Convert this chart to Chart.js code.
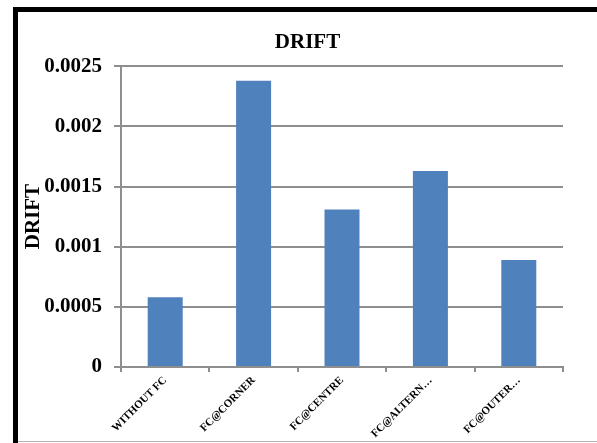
<!DOCTYPE html>
<html>
<head>
<meta charset="utf-8">
<script src="https://cdn.jsdelivr.net/npm/chart.js@4.4.0/dist/chart.umd.min.js"></script>
<style>
  html, body { margin: 0; padding: 0; background: #fff; overflow: hidden; }
  canvas { display: block; }
</style>
</head>
<body>
<canvas id="c" width="597" height="443"></canvas>
<script>
// Drift per flat-column configuration
const categories = ['WITHOUT FC', 'FC@CORNER', 'FC@CENTRE', 'FC@ALTERN\u2026', 'FC@OUTER\u2026'];
const driftValues = [0.00058, 0.00238, 0.00131, 0.00163, 0.00089];
const yTickLabels = ['0', '0.0005', '0.001', '0.0015', '0.002', '0.0025'];
const chartTitle = 'DRIFT';
const yAxisTitle = 'DRIFT';

const serif = "'Liberation Serif', 'Times New Roman', serif";
const gridGray = '#8e8e8e';

// Heavy black frame on the top and left, thin grey rule at the bottom
const framePlugin = {
  id: 'frame',
  beforeDraw(chart) {
    const ctx = chart.ctx;
    ctx.save();
    ctx.fillStyle = '#fff';
    ctx.fillRect(0, 0, chart.width, chart.height);
    ctx.fillStyle = '#000';
    ctx.fillRect(13, 7, chart.width - 13, 5);
    ctx.fillRect(13, 7, 5, chart.height - 7);
    ctx.fillStyle = '#b4b4b4';
    ctx.fillRect(18, 441, chart.width - 18, 1);
    ctx.restore();
  }
};

new Chart(document.getElementById('c'), {
  type: 'bar',
  data: {
    labels: categories,
    datasets: [{
      label: 'DRIFT',
      data: driftValues,
      backgroundColor: '#4F81BD',
      borderWidth: 0,
      barPercentage: 0.396,
      categoryPercentage: 1
    }]
  },
  options: {
    responsive: false,
    animation: false,
    layout: { padding: { left: 18, right: 0, top: 12, bottom: 0 } },
    plugins: {
      legend: { display: false },
      tooltip: { enabled: false },
      title: {
        display: true,
        text: chartTitle,
        color: '#000',
        font: { family: serif, size: 21, weight: 'bold', lineHeight: 1.2 },
        padding: { top: 18, bottom: 11 }
      }
    },
    scales: {
      x: {
        grid: {
          display: true,
          drawOnChartArea: false,
          drawTicks: true,
          tickLength: 5,
          color: gridGray,
          lineWidth: 2,
          offset: true
        },
        border: { color: gridGray, width: 2 },
        ticks: {
          minRotation: 45,
          maxRotation: 45,
          autoSkip: false,
          color: '#000',
          font: { family: serif, size: 11, weight: 'bold' },
          padding: 2
        },
        afterFit(scale) { scale.height = 76; }
      },
      y: {
        min: 0,
        max: 0.0025,
        ticks: {
          stepSize: 0.0005,
          callback: (v, i) => yTickLabels[i],
          color: '#000',
          font: { family: serif, size: 21, weight: 'bold' },
          padding: 12
        },
        grid: { color: gridGray, lineWidth: 2, tickLength: 7 },
        border: { color: gridGray, width: 2 },
        title: {
          display: true,
          text: yAxisTitle,
          color: '#000',
          font: { family: serif, size: 21, weight: 'bold', lineHeight: 1.2 },
          padding: { top: 3, bottom: 0 }
        },
        afterFit(scale) { scale.width = 103; }
      },
      // empty right-hand margin so the plot ends short of the frame edge
      yRight: {
        position: 'right',
        display: true,
        grid: { display: false },
        ticks: { display: false },
        border: { display: false },
        afterFit(scale) { scale.width = 34; }
      }
    }
  },
  plugins: [framePlugin]
});
</script>
</body>
</html>
